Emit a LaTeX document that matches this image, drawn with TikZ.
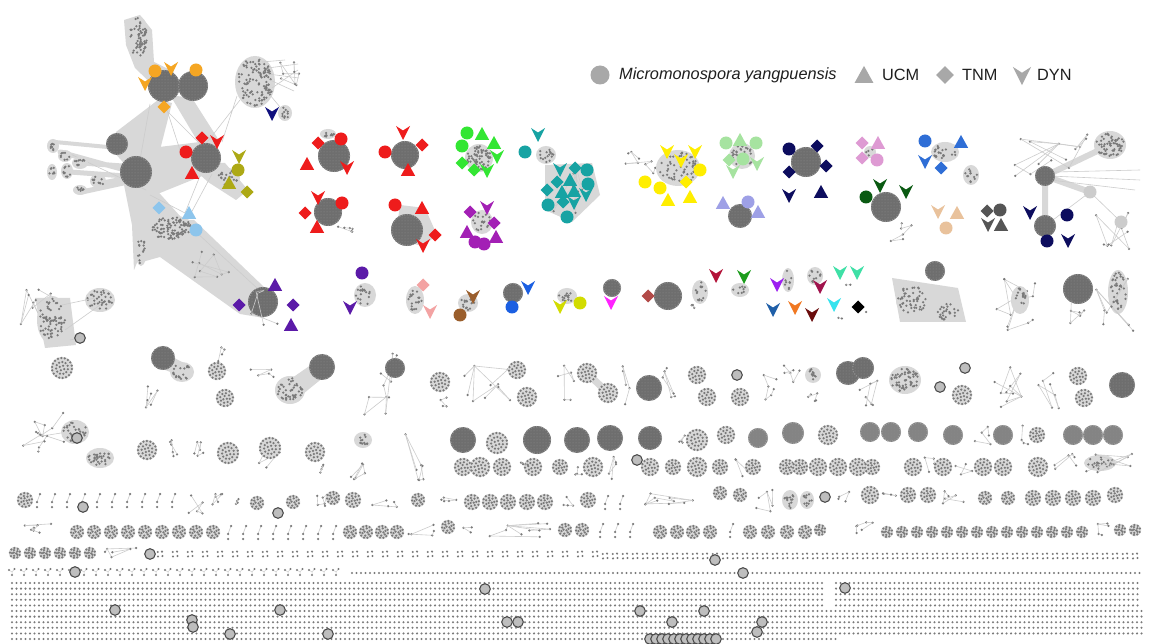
\documentclass[tikz,border=0pt]{standalone}
\usepackage{fontspec}
\setmainfont{Liberation Sans}
\usetikzlibrary{patterns}
\definecolor{dotc}{HTML}{7A7A7A}
\definecolor{hullc}{HTML}{D8D8D8}
\definecolor{edgec}{HTML}{CCCCCC}
\definecolor{blobc}{HTML}{6E6E6E}
\definecolor{blobm}{HTML}{848484}
\definecolor{mycf}{HTML}{BEBEBE}
\definecolor{mycd}{HTML}{4E4E4E}
\definecolor{legc}{HTML}{A8A8A8}
\definecolor{orangeM}{HTML}{F5A623}
\definecolor{redM}{HTML}{EE1C1C}
\definecolor{oliveM}{HTML}{ADA915}
\definecolor{lblueM}{HTML}{8DC5EC}
\definecolor{violetM}{HTML}{5B1AA8}
\definecolor{navyM}{HTML}{10107E}
\definecolor{greenM}{HTML}{33E633}
\definecolor{tealM}{HTML}{17A3A3}
\definecolor{purpM}{HTML}{A320B5}
\definecolor{yellowM}{HTML}{FFEE00}
\definecolor{lgreenM}{HTML}{A6E3A0}
\definecolor{lavM}{HTML}{9EA0E6}
\definecolor{navyB}{HTML}{0D0D5E}
\definecolor{pinkM}{HTML}{DE9AD3}
\definecolor{blueM}{HTML}{2F6ED6}
\definecolor{dgreenM}{HTML}{0A5A12}
\definecolor{tanM}{HTML}{E9C29C}
\definecolor{dgrayM}{HTML}{555555}
\definecolor{salmonM}{HTML}{F3A3A3}
\definecolor{brownM}{HTML}{9A5E2C}
\definecolor{blueB}{HTML}{1B5FE2}
\definecolor{ygreenM}{HTML}{D2DC00}
\definecolor{magM}{HTML}{FF22FF}
\definecolor{brredM}{HTML}{B24A48}
\definecolor{crimM}{HTML}{B3143A}
\definecolor{greenB}{HTML}{1C9C1C}
\definecolor{purpB}{HTML}{9C20F0}
\definecolor{maroonM}{HTML}{A0124C}
\definecolor{tgreenM}{HTML}{3EE0A6}
\definecolor{blueC}{HTML}{1F5FA8}
\definecolor{orangeB}{HTML}{F07822}
\definecolor{dredM}{HTML}{6B0D0D}
\definecolor{cyanM}{HTML}{35E3EE}
\definecolor{lgrayM}{HTML}{CCCCCC}
\definecolor{specc}{HTML}{8E8E8E}
% ---------- element macros ----------
\newcommand\mnMyc[2]{\filldraw[fill=mycf,draw=mycd,line width=1.1pt] (#1,#2) circle [radius=5.3];}
\newcommand\mnBlob[4][blobc]{\fill[#1] (#2,#3) circle [radius=#4];
  \fill[pattern=dots,pattern color=specc] (#2,#3) circle [radius=#4-1];
  \draw[#1!75!white,line width=1.5pt,line cap=round,dash pattern=on 0pt off 2.6pt] (#2,#3) circle [radius=#4-0.6];}
\newcommand\mnRing[4]{\foreach \i in {1,...,#4}{\fill[dotc,shift={(#1,#2)}] ({360*\i/#4+#4*7}:{#3}) circle [radius=1.25];}}
\newcommand\mnClu[3]{\fill[hullc] (#1,#2) circle [radius=#3+1.2];
  \pgfmathtruncatemacro\nA{max(5,6.28*#3/3.4)}%
  \pgfmathtruncatemacro\nB{max(3,6.28*#3*0.6/3.4)}%
  \pgfmathtruncatemacro\nC{max(1,6.28*#3*0.25/3.4)}%
  \mnRing{#1}{#2}{#3}{\nA}\mnRing{#1}{#2}{#3*0.6}{\nB}\mnRing{#1}{#2}{#3*0.25}{\nC}}
\newcommand\mnCloud[5]{\fill[hullc] (#1,#2) ellipse [x radius=#3+2,y radius=#4+2];
  \foreach \i in {1,...,#5}{\pgfmathsetmacro\ra{sqrt(rnd)}\pgfmathsetmacro\th{360*rnd}%
    \fill[dotc] ({#1+#3*\ra*cos(\th)},{#2+#4*\ra*sin(\th)}) circle [radius=1.25];}}
\newcommand\mnNet[5]{\pgfmathsetmacro\px{#1+#3*rnd}\pgfmathsetmacro\py{#2+#4*rnd}%
  \xdef\mnpx{\px}\xdef\mnpy{\py}\xdef\mnfx{\px}\xdef\mnfy{\py}%
  \fill[dotc] (\mnpx,\mnpy) circle [radius=1.25];
  \foreach \i in {2,...,#5}{\pgfmathsetmacro\qx{#1+#3*rnd}\pgfmathsetmacro\qy{#2+#4*rnd}%
    \pgfmathtruncatemacro\br{rnd<0.3}%
    \ifnum\br=1 \xdef\mnpx{\mnfx}\xdef\mnpy{\mnfy}\fi
    \draw[edgec,line width=0.6pt] (\mnpx,\mnpy) -- (\qx,\qy);
    \fill[dotc] (\qx,\qy) circle [radius=1.25];
    \xdef\mnpx{\qx}\xdef\mnpy{\qy}}}
\newcommand\mnDim[2]{\draw[edgec,line width=0.6pt,shift={(#1,#2)}] (3,-6)--(0,2);
  \fill[dotc,shift={(#1,#2)}] (3,-6) circle [radius=1.25] (0,2) circle [radius=1.25] (0,7) circle [radius=1.25];}
\newcommand\mnSm[2]{\fill[dotc,shift={(#1,#2)}] (-2.3,-2) circle [radius=1.15] (2,-2.4) circle [radius=1.15] (-2,2.4) circle [radius=1.15] (2.4,2) circle [radius=1.15];}
\newcommand\mnTp[2]{\draw[edgec,line width=0.5pt,shift={(#1,#2)}] (-3,-2)--(0,0)--(2.5,-3) (0,0)--(0,3);
  \fill[dotc,shift={(#1,#2)}] (-3,-2) circle [radius=1.15] (2.5,-3) circle [radius=1.15] (0,3) circle [radius=1.15];}
% markers
\newcommand\mnCir[4][1]{\fill[#4,shift={(#2,#3)},scale=#1] (0,0) circle [radius=6.5];}
\newcommand\mnTri[4][1]{\fill[#4,shift={(#2,#3)},scale=#1] (0,-7) -- (7.2,6) -- (-7.2,6) -- cycle;}
\newcommand\mnDia[4][1]{\fill[#4,shift={(#2,#3)},scale=#1] (0,-6.5) -- (6.5,0) -- (0,6.5) -- (-6.5,0) -- cycle;}
\newcommand\mnVee[4][1]{\fill[#4,shift={(#2,#3)},scale=#1] (-7,-7) -- (0,-2.5) -- (7,-7) -- (0,7) -- cycle;}
\tikzset{hullband/.style={hullc,line width=#1,line cap=round},
         fine/.style={edgec,line width=0.6pt},
         legtext/.style={font=\fontsize{16.3}{19}\selectfont,text=black!88,anchor=west,inner sep=0pt},
         gridrow/.style={dotc,line width=2.3pt,line cap=round,dash pattern=on 0pt off 4.5pt}}
\begin{document}
\begin{tikzpicture}[x=1pt,y=-1pt]
\pgfmathsetseed{17}
\useasboundingbox (0,0) rectangle (1149,644);
\fill[white] (0,0) rectangle (1149,644);
% ================= legend =================
\fill[legc] (600,75) circle [radius=9.5];
\node[legtext,font=\fontsize{16.3}{19}\selectfont\itshape] (legA) at (619,75) {Micromonospora yangpuensis};
\mnTri[1.3]{864}{75}{legc}
\node[legtext] (legB) at (882,75) {UCM};
\mnDia[1.35]{945}{75}{legc}
\node[legtext] (legC) at (962,75) {TNM};
\mnVee[1.3]{1022}{76}{legc}
\node[legtext] (legD) at (1037,75) {DYN};
% ================= top-left super network =================
\fill[hullc] (124,20)--(140,15)--(152,30)--(154,62)--(174,72)--(160,92)--(135,68)--(126,45)--cycle;
\fill[hullc] (170,95)--(192,98)--(220,142)--(204,152)--cycle;
\fill[hullc] (158,100)--(172,103)--(160,150)--(150,192)--(112,150)--(116,132)--cycle;
\fill[hullc] (135,150)--(200,142)--(212,172)--(150,197)--cycle;
\fill[hullc] (186,162)--(225,163)--(248,190)--(236,200)--(208,182)--cycle;
\fill[hullc] (124,185)--(152,185)--(180,216)--(152,226)--(134,270)--(132,225)--cycle;
\fill[hullc] (150,218)--(194,220)--(264,287)--(264,318)--(240,314)--(160,257)--(142,262)--cycle;
\draw[hullband=5pt] (125,170)--(60,152) (125,176)--(70,172) (128,182)--(82,192) (128,178)--(98,184) (122,166)--(82,163);
\draw[hullband=4pt] (118,148)--(55,142) (130,190)--(140,250);
\draw[fine] (160,104)--(206,150) (237,96)--(222,142) (240,100)--(205,145) (150,104)--(140,160) (165,104)--(180,150)
            (150,195)--(185,213) (196,232)--(270,300) (200,176)--(185,213) (212,174)--(190,215) (146,190)--(62,150);
\mnCloud{138}{38}{9}{20}{60}
\mnBlob{164}{86}{16}
\mnBlob{193}{86}{15}
\mnCloud{255}{82}{18}{24}{110}
\draw[fine] (268,68)--(298,64) (268,74)--(299,78) (270,80)--(294,91) (262,62)--(285,60) (272,88)--(298,70) (270,95)--(280,107);
\mnNet{278}{58}{22}{38}{8}
\mnCloud{285}{113}{5}{6}{10}
\mnBlob{117}{144}{11}
\mnBlob{136}{172}{16}
\mnCloud{53}{146}{4}{5}{8}
\mnCloud{65}{156}{5}{4}{8}
\mnCloud{80}{163}{6}{4}{10}
\mnCloud{52}{172}{3}{6}{7}
\mnCloud{67}{171}{4}{6}{9}
\mnCloud{80}{190}{5}{3}{7}
\mnCloud{98}{181}{6}{5}{10}
\mnBlob{206}{158}{15}
\mnCloud{228}{178}{10}{8}{18}
\mnCloud{170}{228}{22}{11}{100}
\mnCloud{141}{248}{4}{16}{14}
\mnNet{185}{250}{55}{35}{9}
\mnBlob{263}{302}{15}
\mnNet{245}{285}{40}{40}{6}
% markers top-left
\mnCir{155}{71}{orangeM}\mnVee{171}{69}{orangeM}\mnCir{196}{70}{orangeM}\mnVee{145}{84}{orangeM}\mnDia{164}{107}{orangeM}
\mnDia{202}{138}{redM}\mnVee{217}{142}{redM}\mnCir{186}{152}{redM}\mnTri{192}{173}{redM}
\mnVee{239}{157}{oliveM}\mnCir{238}{170}{oliveM}\mnTri{229}{183}{oliveM}\mnDia{247}{192}{oliveM}
\mnDia{159}{208}{lblueM}\mnTri{189}{213}{lblueM}\mnCir{196}{230}{lblueM}
\mnTri{275}{285}{violetM}\mnDia{239}{305}{violetM}\mnDia{293}{305}{violetM}\mnTri{291}{325}{violetM}
\mnVee{272}{114}{navyM}
% ================= row 2 clusters =================
\mnCloud{328}{134}{6}{3}{10}
\mnBlob{334}{156}{16}
\mnDia{318}{143}{redM}\mnCir{341}{139}{redM}\mnTri{307}{164}{redM}\mnVee{347}{168}{redM}
\mnBlob{405}{155}{14}
\mnVee{403}{133}{redM}\mnCir{385}{152}{redM}\mnDia{422}{145}{redM}\mnTri{408}{170}{redM}
\mnCloud{479}{158}{12}{12}{60}
\mnCir{467}{133}{greenM}\mnCir{462}{146}{greenM}\mnTri{482}{134}{greenM}\mnTri{494}{143}{greenM}\mnVee{497}{157}{greenM}
\mnDia{462}{163}{greenM}\mnDia{474}{170}{greenM}\mnVee{487}{171}{greenM}
\mnCloud{546}{155}{8}{7}{16}
\fill[hullc] (545,165)--(592,163)--(600,195)--(572,222)--(545,210)--cycle;
\mnNet{548}{165}{50}{50}{10}
\mnVee{538}{135}{tealM}\mnCir{525}{152}{tealM}
\mnVee{560}{170}{tealM}\mnDia{575}{168}{tealM}\mnCir{587}{170}{tealM}\mnDia{557}{182}{tealM}\mnTri{570}{180}{tealM}
\mnCir{588}{184}{tealM}\mnDia{547}{190}{tealM}\mnTri{562}{192}{tealM}\mnTri{574}{191}{tealM}\mnVee{586}{195}{tealM}
\mnCir{548}{205}{tealM}\mnDia{563}{202}{tealM}\mnVee{574}{203}{tealM}\mnCir{567}{217}{tealM}
\mnBlob{328}{212}{14}
\mnNet{336}{226}{18}{7}{6}
\mnVee{318}{198}{redM}\mnCir{342}{203}{redM}\mnDia{305}{213}{redM}\mnTri{317}{227}{redM}
\fill[hullc] (400,205)--(425,208)--(437,235)--(423,246)--(395,240)--cycle;
\mnBlob{407}{230}{16}
\mnCir{395}{205}{redM}\mnTri{422}{208}{redM}\mnDia{435}{235}{redM}\mnVee{423}{246}{redM}
\mnCloud{482}{222}{9}{10}{20}
\mnDia{470}{212}{purpM}\mnVee{487}{208}{purpM}\mnDia{494}{223}{purpM}\mnTri{467}{232}{purpM}\mnTri{496}{237}{purpM}
\mnCir{475}{242}{purpM}\mnCir{484}{244}{purpM}
% yellow
\mnNet{622}{148}{35}{28}{9}
\mnCloud{678}{168}{20}{16}{60}
\mnVee{667}{152}{yellowM}\mnVee{695}{152}{yellowM}\mnVee{681}{161}{yellowM}\mnCir{645}{182}{yellowM}\mnCir{660}{188}{yellowM}
\mnDia{686}{182}{yellowM}\mnTri{668}{200}{yellowM}\mnTri{690}{197}{yellowM}\mnCir{700}{170}{yellowM}
% light green
\mnCloud{742}{156}{11}{11}{26}
\mnCir{726}{143}{lgreenM}\mnTri{740}{140}{lgreenM}\mnCir{756}{143}{lgreenM}\mnDia{729}{160}{lgreenM}\mnCir{743}{159}{lgreenM}
\mnVee{733}{172}{lgreenM}\mnVee{757}{164}{lgreenM}
% lavender
\mnBlob{740}{216}{12}
\mnTri{723}{203}{lavM}\mnCir{748}{202}{lavM}\mnTri{758}{212}{lavM}
% navy
\mnBlob{806}{162}{15}
\mnCir{789}{149}{navyB}\mnDia{817}{146}{navyB}\mnDia{789}{172}{navyB}\mnVee{789}{196}{navyB}\mnTri{821}{192}{navyB}\mnDia{826}{166}{navyB}
% pink
\mnCloud{870}{152}{4}{4}{4}
\mnDia{862}{143}{pinkM}\mnTri{878}{143}{pinkM}\mnDia{862}{158}{pinkM}\mnCir{877}{160}{pinkM}
% blue
\mnCloud{945}{152}{12}{8}{24}
\mnCloud{971}{175}{6}{8}{12}
\mnCir{925}{141}{blueM}\mnTri{961}{142}{blueM}\mnVee{925}{162}{blueM}\mnDia{941}{168}{blueM}
% dark green
\mnNet{888}{215}{30}{28}{6}
\mnBlob{886}{207}{15}
\mnCir{866}{197}{dgreenM}\mnVee{880}{186}{dgreenM}\mnVee{906}{192}{dgreenM}
% tan
\mnVee{938}{212}{tanM}\mnTri{957}{213}{tanM}\mnCir{946}{228}{tanM}
% dark gray
\mnDia{987}{211}{dgrayM}\mnCir{1000}{210}{dgrayM}\mnVee{988}{225}{dgrayM}\mnTri{1001}{225}{dgrayM}
% right network
\draw[hullband=6pt] (1045,176)--(1110,145) (1045,176)--(1045,226) (1045,176)--(1090,192);
\draw[fine] (1050,176)--(1140,180) (1055,172)--(1140,170) (1050,180)--(1135,190) (1090,192)--(1121,222) (1045,226)--(1090,192);
\mnNet{1010}{130}{80}{50}{14}
\mnCloud{1110}{145}{14}{12}{60}
\mnBlob{1045}{176}{10}
\mnNet{1095}{195}{45}{55}{10}
\mnBlob{1045}{226}{11}
\mnCir{1090}{192}{lgrayM}\mnCir{1121}{222}{lgrayM}
\mnVee{1030}{213}{navyB}\mnCir{1067}{215}{navyB}\mnCir{1047}{241}{navyB}\mnVee{1068}{241}{navyB}
% ================= row 3 =================
\fill[hullc] (35,298)--(70,298)--(76,345)--(45,348)--cycle;
\mnNet{18}{285}{45}{40}{10}
\mnCloud{52}{320}{13}{22}{70}
\mnCloud{100}{300}{13}{10}{35}
\draw[fine] (62,305)--(95,298) (65,330)--(100,305) (70,340)--(80,338);
\mnMyc{80}{338}
\mnCloud{365}{295}{9}{10}{18}
\mnCir{362}{273}{violetM}\mnVee{350}{308}{violetM}
\mnCloud{415}{300}{7}{12}{20}
\mnDia{423}{285}{salmonM}\mnVee{430}{312}{salmonM}
\mnCloud{468}{303}{8}{7}{14}
\mnVee{473}{297}{brownM}\mnCir{460}{315}{brownM}
\mnBlob{513}{293}{10}
\mnVee{528}{288}{blueB}\mnCir{512}{307}{blueB}
\mnCloud{567}{296}{8}{6}{14}
\mnVee{560}{307}{ygreenM}\mnCir{580}{303}{ygreenM}
\mnBlob{612}{288}{9}
\mnVee{611}{303}{magM}
\mnBlob{668}{296}{14}
\mnNet{680}{296}{15}{12}{3}
\mnDia{648}{296}{brredM}
\mnCloud{700}{292}{6}{10}{14}
\mnVee{716}{276}{crimM}
\mnCloud{740}{290}{7}{5}{8}
\mnVee{744}{277}{greenB}
\mnCloud{788}{280}{4}{10}{9}
\mnVee{777}{285}{purpB}
\mnCloud{815}{276}{6}{7}{10}
\mnVee{820}{287}{maroonM}
\mnNet{845}{280}{8}{6}{2}
\mnVee{840}{273}{tgreenM}\mnVee{857}{273}{tgreenM}
\mnVee{773}{310}{blueC}\mnVee{795}{308}{orangeB}\mnVee{812}{315}{dredM}
\mnNet{838}{310}{6}{10}{2}
\mnVee{834}{305}{cyanM}
\fill[dotc] (866,312) circle [radius=1.25];
\mnDia{858}{307}{black}
% gray clusters right of row 3
\fill[hullc] (892,278)--(958,288)--(966,322)--(900,322)--cycle;
\mnBlob{935}{271}{10}
\mnCloud{912}{300}{14}{14}{50}
\mnCloud{948}{312}{12}{8}{26}
\mnNet{990}{265}{50}{65}{12}
\mnCloud{1020}{300}{7}{12}{18}
\mnBlob{1078}{289}{15}
\mnNet{1068}{300}{25}{30}{6}
\mnCloud{1118}{292}{8}{20}{38}
\mnNet{1095}{262}{50}{70}{9}
% ================= row 4 =================
\mnClu{62}{368}{10}
\fill[hullc] (163,352)--(182,362)--(186,378)--(160,368)--cycle;
\mnBlob{163}{358}{12}
\mnCloud{182}{372}{10}{8}{20}
\mnNet{146}{372}{12}{36}{6}
\mnNet{218}{345}{14}{25}{4}
\mnClu{217}{371}{8}
\mnClu{225}{398}{8}
\fill[hullc] (318,360)--(330,372)--(298,398)--(282,385)--cycle;
\mnBlob{322}{367}{13}
\mnCloud{290}{390}{13}{12}{45}
\mnNet{245}{368}{30}{16}{5}
\mnNet{360}{352}{40}{70}{10}
\mnBlob{395}{368}{10}
\mnClu{440}{382}{9}
\mnNet{436}{395}{12}{12}{4}
\mnNet{462}{365}{48}{40}{10}
\mnClu{517}{370}{8}
\mnClu{527}{397}{9}
\mnNet{553}{365}{22}{40}{6}
\draw[hullband=7pt] (587,373)--(608,393);
\mnClu{587}{373}{9}
\mnClu{608}{393}{9}
\mnNet{620}{365}{10}{40}{5}
\mnBlob{649}{388}{13}
\mnNet{662}{365}{20}{40}{6}
\mnClu{697}{375}{8}
\mnClu{707}{397}{8}
\mnMyc{737}{375}
\mnClu{740}{397}{8}
\mnNet{752}{375}{25}{25}{6}
\mnNet{780}{362}{20}{25}{6}
\mnCloud{813}{375}{6}{6}{12}
\mnNet{808}{385}{10}{20}{5}
\mnNet{858}{380}{22}{28}{7}
\mnBlob{848}{373}{12}
\mnBlob{863}{368}{11}
\mnCloud{905}{380}{14}{12}{60}
\mnMyc{940}{387}
\mnClu{962}{395}{9}
\mnMyc{965}{368}
\mnNet{990}{363}{35}{50}{10}
\mnNet{1035}{370}{25}{40}{7}
\mnClu{1078}{376}{8}
\mnClu{1084}{398}{8}
\mnBlob{1122}{385}{13}
% ================= row 5 =================
\mnNet{25}{405}{50}{40}{10}
\mnCloud{75}{432}{12}{10}{32}
\mnMyc{77}{438}
\mnCloud{100}{458}{12}{8}{32}
\mnNet{22}{435}{25}{20}{6}
\mnClu{147}{450}{9}
\mnNet{168}{440}{15}{25}{6}
\mnNet{193}{440}{15}{25}{6}
\mnClu{228}{453}{10}
\mnNet{255}{440}{25}{30}{5}
\mnClu{270}{448}{10}
\mnClu{315}{452}{9}
\mnNet{320}{460}{15}{20}{4}
\mnCloud{363}{440}{7}{6}{12}
\mnNet{350}{458}{25}{22}{6}
\mnNet{405}{432}{20}{50}{7}
\mnBlob{463}{440}{13}
\mnClu{497}{443}{10}
\mnBlob{537}{440}{14}
\mnBlob{577}{440}{13}
\mnBlob{610}{438}{13}
\mnBlob{650}{438}{12}
\mnNet{675}{432}{12}{15}{4}
\mnClu{697}{440}{10}
\mnClu{726}{435}{8}
\mnBlob[blobm]{758}{438}{10}
\mnBlob[blobm]{793}{433}{11}
\mnClu{828}{435}{9}
\mnBlob[blobm]{870}{432}{10}
\mnBlob[blobm]{891}{432}{10}
\mnBlob[blobm]{918}{432}{10}
\mnBlob[blobm]{953}{435}{10}
\mnNet{966}{425}{28}{20}{5}
\mnBlob[blobm]{1003}{435}{10}
\mnNet{1016}{425}{14}{20}{4}
\mnClu{1037}{435}{7}
\mnBlob[blobm]{1073}{435}{10}
\mnBlob[blobm]{1093}{435}{10}
\mnBlob[blobm]{1113}{435}{10}
% ================= row 6 =================
\foreach \x/\r in {463/8,480/9,502/8,533/8,560/7,593/9,650/8,673/7,697/9,720/7,753/7,787/7,800/7,818/8,838/8,858/8,872/7,913/8,943/8,983/8,1003/8,1038/9}{\mnClu{\x}{467}{\r}}
\mnMyc{637}{460}
\mnNet{516}{456}{12}{20}{4}
\mnNet{570}{456}{14}{20}{4}
\mnNet{608}{456}{18}{24}{5}
\mnNet{733}{456}{14}{22}{4}
\mnNet{924}{456}{12}{20}{4}
\mnNet{955}{456}{20}{20}{4}
\mnNet{1050}{452}{30}{22}{6}
\mnCloud{1100}{463}{14}{6}{22}
\mnNet{1085}{452}{55}{25}{7}
% ================= row ~500 =================
\mnClu{25}{500}{7}
\foreach \x in {37,52,...,177}{\mnDim{\x}{500}}
\mnMyc{83}{507}
\mnNet{185}{494}{18}{20}{5}
\mnNet{212}{494}{20}{15}{6}
\mnNet{234}{492}{12}{15}{4}
\mnClu{257}{503}{6}
\mnMyc{278}{513}
\mnClu{293}{502}{6}
\mnNet{305}{493}{25}{15}{6}
\mnClu{333}{498}{6}
\mnClu{353}{500}{7}
\mnNet{372}{493}{25}{15}{5}
\mnClu{418}{500}{6}
\mnNet{437}{494}{22}{12}{5}
\foreach \x in {472,490,508,527,545}{\mnClu{\x}{502}{7}}
\mnNet{555}{494}{22}{12}{4}
\mnClu{588}{500}{7}
\mnDim{605}{502}\mnDim{620}{502}
\mnNet{640}{492}{60}{15}{10}
\mnClu{720}{493}{6}
\mnClu{740}{495}{6}
\mnNet{753}{489}{22}{25}{6}
\mnCloud{790}{500}{6}{8}{14}
\mnCloud{807}{500}{5}{7}{12}
\mnMyc{825}{497}
\mnNet{837}{490}{22}{15}{4}
\mnClu{870}{495}{8}
\mnNet{881}{492}{15}{12}{4}
\mnClu{908}{495}{7}
\mnClu{928}{495}{7}
\mnNet{940}{490}{30}{15}{6}
\mnClu{985}{498}{6}
\mnClu{1008}{498}{6}
\foreach \x in {1033,1053,1073,1093}{\mnClu{\x}{498}{7}}
\mnClu{1115}{495}{7}
% ================= row ~530 =================
\mnNet{14}{522}{45}{18}{7}
\foreach \x in {77,94,...,213}{\mnClu{\x}{532}{6}}
\foreach \x in {228,243,...,333}{\mnDim{\x}{532}}
\foreach \x in {350,366,382,397}{\mnClu{\x}{532}{6}}
\mnNet{405}{522}{30}{15}{5}
\mnClu{448}{527}{6}
\mnNet{462}{522}{16}{15}{3}
\mnNet{488}{522}{72}{18}{10}
\mnClu{565}{530}{6}
\mnClu{582}{530}{6}
\foreach \x in {600,615,630}{\mnDim{\x}{530}}
\foreach \x in {660,677,693,710}{\mnClu{\x}{532}{6}}
\mnDim{730}{530}
\foreach \x in {750,768,787,805}{\mnClu{\x}{532}{6}}
\mnClu{820}{530}{5}
\mnNet{830}{522}{45}{15}{6}
\foreach \x in {887,902,...,1087}{\mnClu{\x}{532}{5}}
\mnNet{1094}{522}{22}{15}{5}
\mnClu{1120}{530}{5}
\mnClu{1135}{530}{5}
% ================= row ~553 =================
\foreach \x in {15,30,...,93}{\mnClu{\x}{553}{5}}
\mnNet{100}{546}{42}{12}{6}
\foreach \x in {160,175,...,595}{\mnSm{\x}{554}}
\foreach \x in {605,615,...,1140}{\mnSm{\x}{556}}
\mnMyc{150}{554}
\mnMyc{715}{560}
% ================= row ~572 =================
\foreach \x in {12,24,...,340}{\mnTp{\x}{572}}
\draw[gridrow] (352,573) -- (1142,573);
\mnMyc{75}{572}
\mnMyc{743}{573}
% ================= singleton grid =================
\foreach \k in {0,...,4}{\draw[gridrow] (12,583+5.6*\k) -- (824,583+5.6*\k); \draw[gridrow] (836,583+5.6*\k) -- (1142,583+5.6*\k);}
\foreach \k in {5,...,9}{\draw[gridrow] (12,583+5.6*\k) -- (1142,583+5.6*\k);}
\draw[gridrow] (12,639) -- (840,639);
\foreach \x/\y in {115/610,192/620,193/627,230/634,280/610,328/634,485/589,507/622,518/622,640/611,672/622,704/611,762/622,757/632,845/588}{\mnMyc{\x}{\y}}
\foreach \x in {650,656,...,716}{\mnMyc{\x}{639}}
\end{tikzpicture}
\end{document}
